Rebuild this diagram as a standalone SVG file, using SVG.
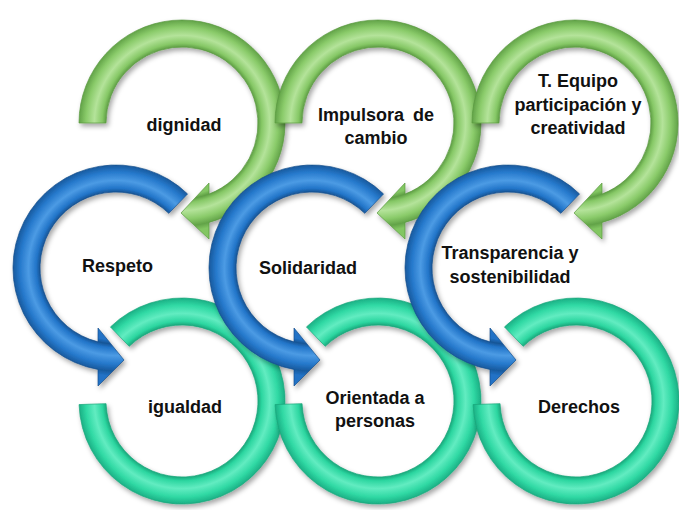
<svg xmlns="http://www.w3.org/2000/svg" xmlns:xlink="http://www.w3.org/1999/xlink" width="679" height="510" viewBox="0 0 679 510">
<style>
.lbl{font-family:"Liberation Sans",Arial,sans-serif;font-weight:bold;font-size:18px;fill:#111;text-anchor:middle}
.g{fill:url(#gGreen);stroke:#5a9a40;stroke-width:0.7}
.b{fill:url(#gBlue);stroke:#164f8c;stroke-width:0.7}
.t{fill:url(#gTeal);stroke:#18a67a;stroke-width:0.7}
.shape{filter:url(#shadow)}
</style>
<defs>
<filter id="shadow" x="-20%" y="-20%" width="140%" height="140%">
<feDropShadow dx="2" dy="3" stdDeviation="2.5" flood-color="#000" flood-opacity="0.35"/>
</filter>
<radialGradient id="gGreen" gradientUnits="userSpaceOnUse" cx="0" cy="0" r="120">
<stop offset="0" stop-color="#82c662"/>
<stop offset="0.6" stop-color="#82c662"/>
<stop offset="0.633" stop-color="#5f9f45"/>
<stop offset="0.665" stop-color="#86c866"/>
<stop offset="0.73" stop-color="#b4e39a"/>
<stop offset="0.80" stop-color="#8acb6a"/>
<stop offset="0.858" stop-color="#62a348"/>
<stop offset="0.9" stop-color="#82c662"/>
<stop offset="1" stop-color="#82c662"/>
</radialGradient>
<radialGradient id="gBlue" gradientUnits="userSpaceOnUse" cx="0" cy="0" r="120">
<stop offset="0" stop-color="#2172c6"/>
<stop offset="0.6" stop-color="#2172c6"/>
<stop offset="0.633" stop-color="#175596"/>
<stop offset="0.665" stop-color="#2275c9"/>
<stop offset="0.73" stop-color="#4c9be4"/>
<stop offset="0.80" stop-color="#2679cc"/>
<stop offset="0.858" stop-color="#185a9e"/>
<stop offset="0.9" stop-color="#2172c6"/>
<stop offset="1" stop-color="#2172c6"/>
</radialGradient>
<radialGradient id="gTeal" gradientUnits="userSpaceOnUse" cx="0" cy="0" r="120">
<stop offset="0" stop-color="#2bd5a0"/>
<stop offset="0.6" stop-color="#2bd5a0"/>
<stop offset="0.633" stop-color="#1aa87c"/>
<stop offset="0.665" stop-color="#2cd6a0"/>
<stop offset="0.73" stop-color="#62ecc1"/>
<stop offset="0.80" stop-color="#30d9a4"/>
<stop offset="0.858" stop-color="#1bb085"/>
<stop offset="0.9" stop-color="#2bd5a0"/>
<stop offset="1" stop-color="#2bd5a0"/>
</radialGradient>
<path id="greenArrow" d="M -103 0 A 103 103 0 1 1 27 99.40 L 27 116 L -1 90 L 27 60 L 27 71.04 A 76 76 0 1 0 -76 0 Z"/>
<path id="blueArrow" d="M 71.55 -74.09 A 103 103 0 1 0 -18 101.41 L -18 118 L 8 92 L -18 60 L -18 73.84 A 76 76 0 1 1 52.80 -54.67 Z"/>
<path id="tealRing" d="M -71.55 -74.09 A 103 103 0 1 1 -102.94 3.59 L -75.95 2.65 A 76 76 0 1 0 -52.80 -54.67 Z"/>
</defs>
<rect width="679" height="510" fill="#fff"/>

<g id="node-dignidad" transform="translate(182,123)">
<use href="#greenArrow" class="g shape"/>
<text class="lbl" x="2" y="8">dignidad</text>
</g>
<g id="node-respeto" transform="translate(116,268)">
<use href="#blueArrow" class="b shape"/>
<text class="lbl" x="1.5" y="4">Respeto</text>
</g>
<g id="node-igualdad" transform="translate(182,401)">
<use href="#tealRing" class="t shape"/>
<text class="lbl" x="3" y="12">igualdad</text>
</g>

<g id="node-impulsora" transform="translate(378,123)">
<use href="#greenArrow" class="g shape"/>
<text class="lbl" x="-2" y="-2" style="word-spacing:4px">Impulsora de</text>
<text class="lbl" x="-2" y="21">cambio</text>
</g>
<g id="node-solidaridad" transform="translate(312,268)">
<use href="#blueArrow" class="b shape"/>
<text class="lbl" x="-4" y="6">Solidaridad</text>
</g>
<g id="node-orientada" transform="translate(378,401)">
<use href="#tealRing" class="t shape"/>
<text class="lbl" x="-3" y="3">Orientada a</text>
<text class="lbl" x="-3" y="26">personas</text>
</g>

<g id="node-tequipo" transform="translate(575,123)">
<use href="#greenArrow" class="g shape"/>
<text class="lbl" x="3" y="-36">T. Equipo</text>
<text class="lbl" x="3" y="-12">participación y</text>
<text class="lbl" x="3" y="11">creatividad</text>
</g>
<g id="node-transparencia" transform="translate(508,268)">
<use href="#blueArrow" class="b shape"/>
<text class="lbl" x="2" y="-9">Transparencia y</text>
<text class="lbl" x="2" y="15">sostenibilidad</text>
</g>
<g id="node-derechos" transform="translate(576,401)">
<use href="#tealRing" class="t shape"/>
<text class="lbl" x="3" y="12">Derechos</text>
</g>
</svg>
